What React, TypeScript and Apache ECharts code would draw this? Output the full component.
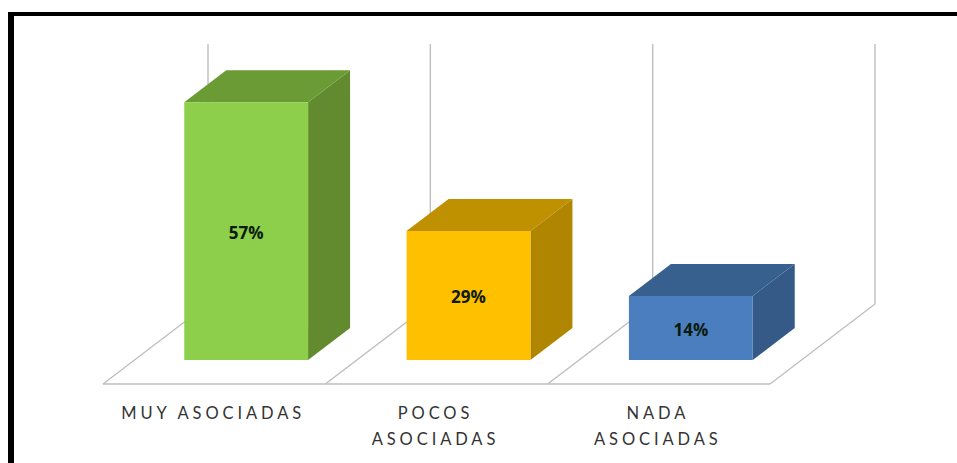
import React, { useEffect, useRef } from "react";
import * as echarts from "echarts";

const categories = ["MUY ASOCIADAS", "POCOS ASOCIADAS", "NADA ASOCIADAS"];
const values = [57.1, 28.6, 14.2];
const frontColors = ["#8DCF4A", "#FFC000", "#4A7EBE"];
const topColors = ["#6B9B35", "#BF9000", "#38608F"];
const sideColors = ["#628B2F", "#B08500", "#355A87"];

const AXIS_MAX = 57.6;
const BAR_DEPTH = [42, -32];
const BACK = [73, -56];
const FRONT = [-32, 24];
const LINE = { stroke: "#BEBEBE", lineWidth: 1.4, fill: "none" };

function wallItem(params: any, api: any) {
  const i = api.value(0);
  const band = api.size([1, 0])[0];
  const base = api.coord([i, 0]);
  const top = api.coord([i, AXIS_MAX]);
  const boundary = (x: number) => [
    { type: "line", silent: true, shape: { x1: x + BACK[0], y1: top[1] + BACK[1], x2: x + BACK[0], y2: base[1] + BACK[1] }, style: LINE },
    { type: "line", silent: true, shape: { x1: x + BACK[0], y1: base[1] + BACK[1], x2: x + FRONT[0], y2: base[1] + FRONT[1] }, style: LINE },
  ];
  const left = base[0] - band / 2;
  const children: any[] = [
    ...boundary(left),
    { type: "line", silent: true, shape: { x1: left + FRONT[0], y1: base[1] + FRONT[1], x2: left + band + FRONT[0], y2: base[1] + FRONT[1] }, style: LINE },
  ];
  if (i === categories.length - 1) children.push(...boundary(left + band));
  return { type: "group", children };
}

function barItem(params: any, api: any) {
  const i = api.value(0);
  const v = api.value(1);
  const band = api.size([1, 0])[0];
  const w = band * 0.557;
  const base = api.coord([i, 0]);
  const top = api.coord([i, v]);
  const l = base[0] - w / 2;
  const r = base[0] + w / 2;
  const [dx, dy] = BAR_DEPTH;
  return {
    type: "group",
    children: [
      {
        type: "polygon", silent: true,
        shape: { points: [[r, top[1]], [r + dx, top[1] + dy], [r + dx, base[1] + dy], [r, base[1]]] },
        style: { fill: sideColors[i] },
      },
      {
        type: "polygon", silent: true,
        shape: { points: [[l, top[1]], [l + dx, top[1] + dy], [r + dx, top[1] + dy], [r, top[1]]] },
        style: { fill: topColors[i] },
      },
      { type: "rect", silent: true, shape: { x: l, y: top[1], width: w, height: base[1] - top[1] }, style: { fill: frontColors[i] } },
      {
        type: "text", silent: true,
        style: {
          text: `${Math.round(v)}%`, x: base[0], y: (top[1] + base[1]) / 2 + 1.5, align: "center", verticalAlign: "middle",
          fill: "#0B1A0B", font: "bold 17px 'Open Sans'",
        },
      },
    ],
  };
}

export default function App() {
  const ref = useRef<HTMLDivElement>(null);
  useEffect(() => {
    const chart = echarts.init(ref.current!, null, { renderer: "svg" });
    chart.setOption({
      animation: false,
      backgroundColor: "#FFFFFF",
      grid: { left: 135, right: 155, top: 100, bottom: 103 },
      xAxis: {
        type: "category",
        data: categories,
        axisLine: { show: false },
        axisTick: { show: false },
        axisLabel: {
          margin: 40,
          padding: [0, 66, 0, 0],
          color: "#333333",
          fontFamily: "Lato",
          fontSize: 16.5,
          lineHeight: 26,
          verticalAlign: "top",
          interval: 0,
          formatter: (s: string) => (s.startsWith("MUY") ? s : s.replace(" ", "\n")),
        },
      },
      yAxis: { type: "value", min: 0, max: AXIS_MAX, show: false },
      graphic: [
        { type: "rect", silent: true, shape: { x: 8, y: 12, width: 949, height: 4 }, style: { fill: "#000000" } },
        { type: "rect", silent: true, shape: { x: 8, y: 12, width: 6, height: 451 }, style: { fill: "#000000" } },
      ],
      series: [
        {
          type: "custom",
          silent: true,
          renderItem: wallItem,
          encode: { x: 0, y: 1 },
          data: categories.map((_, i) => [i, 0]),
          z: 1,
        },
        {
          type: "custom",
          silent: true,
          renderItem: barItem,
          encode: { x: 0, y: 1 },
          data: values.map((v, i) => [i, v]),
          z: 2,
        },
      ],
    });
    return () => chart.dispose();
  }, []);
  return (
    <>
      <style>{`#chart svg text[style*="Lato"], #chart svg text[font-family*="Lato"] { letter-spacing: 3.9px; }`}</style>
      <div id="chart" ref={ref} style={{ position: "fixed", left: 0, top: 0, width: 957, height: 463 }} />
    </>
  );
}
